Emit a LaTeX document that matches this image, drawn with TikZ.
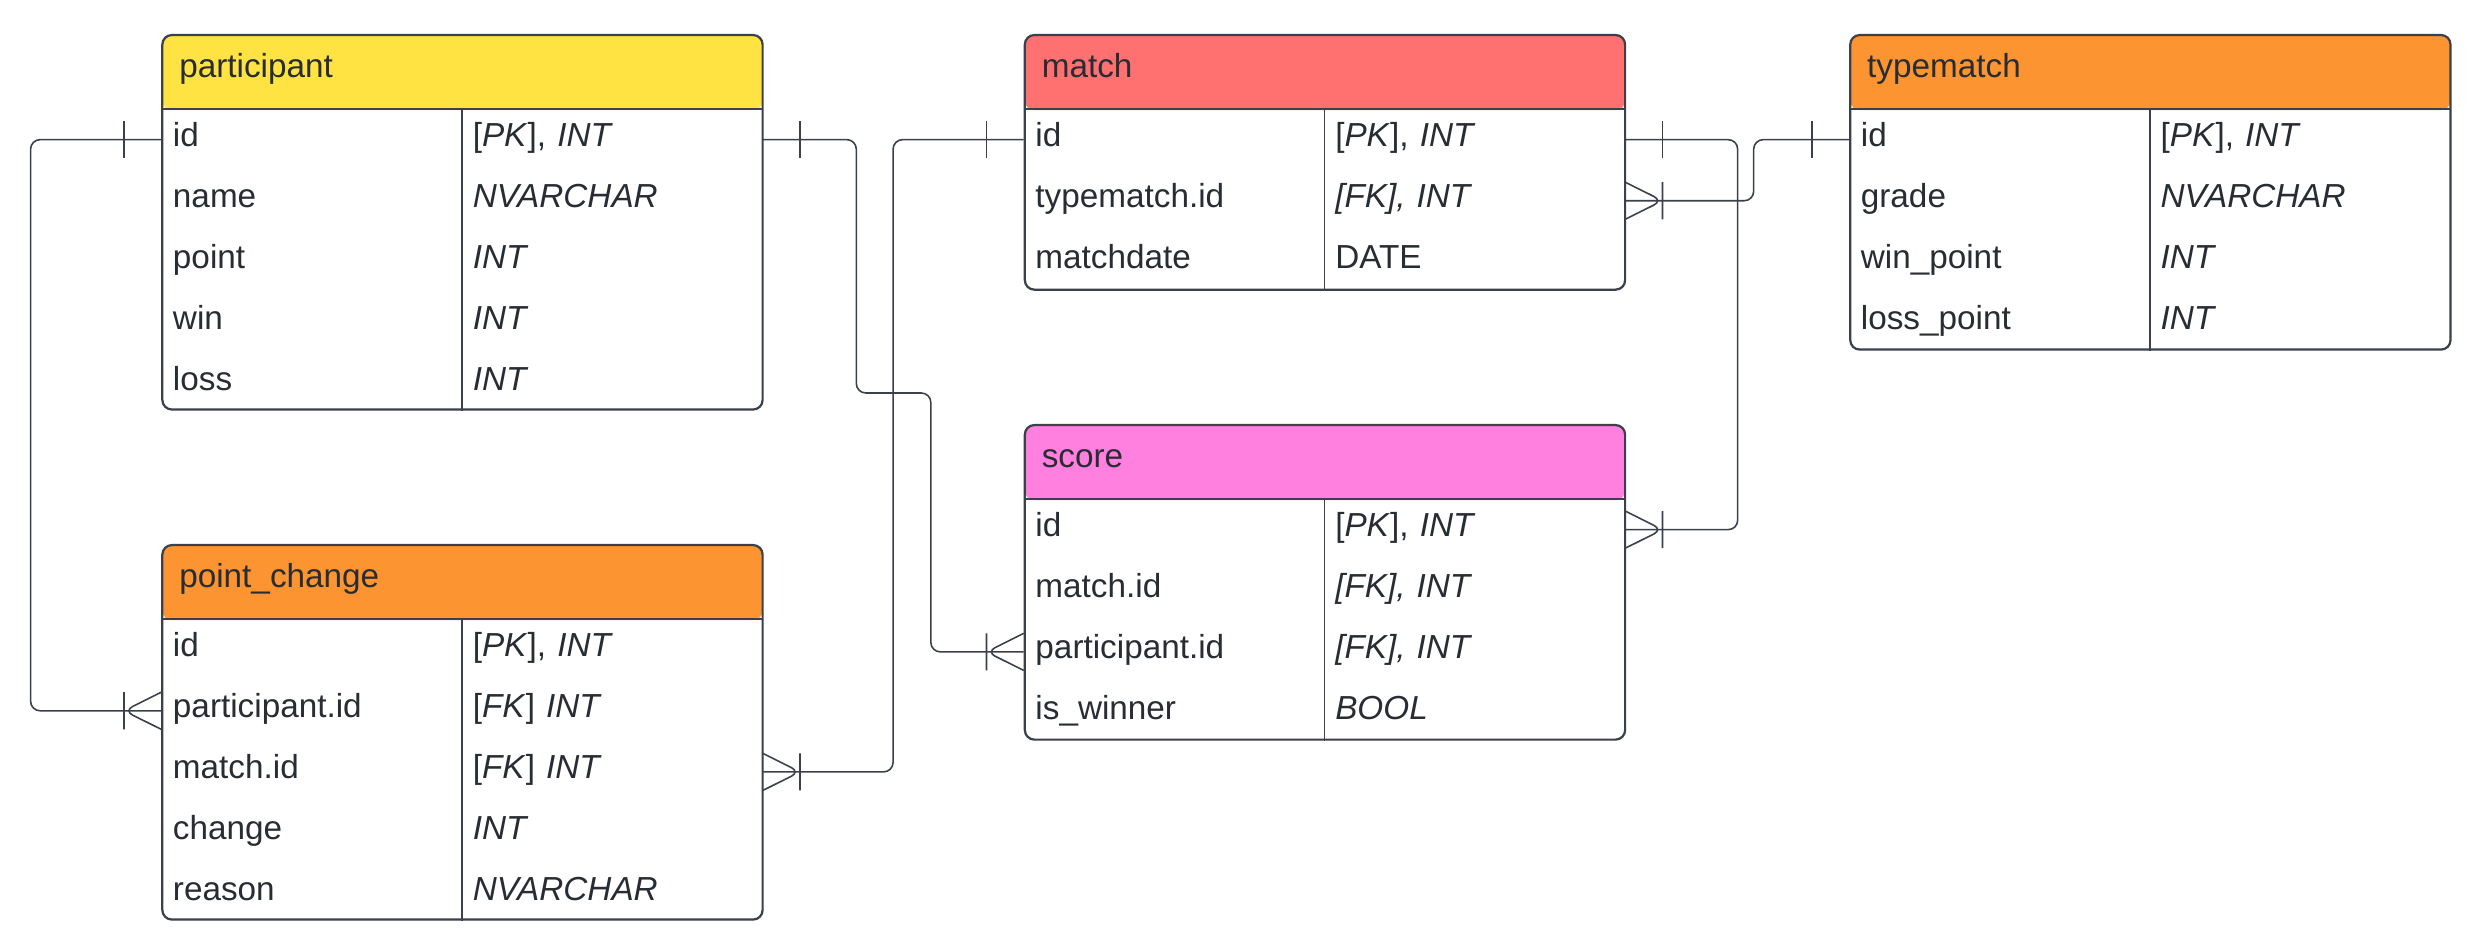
\documentclass[tikz,border=0pt]{standalone}
\usepackage{fontspec}
\setmainfont{Liberation Sans}
\usetikzlibrary{positioning}

\definecolor{lineGray}{HTML}{3A414A}
\definecolor{txtGray}{HTML}{282C33}
\definecolor{hdrYellow}{HTML}{FFE342}
\definecolor{hdrRed}{HTML}{FF7070}
\definecolor{hdrOrange}{HTML}{FC9432}
\definecolor{hdrPink}{HTML}{FF80DF}

% field name in the left column, type in the right one
\newcommand{\fld}[2]{\makebox[94.55pt][l]{#1}#2}

\tikzset{
  tbl/.style={draw=lineGray, line width=0.7pt, fill=white, rounded corners=3pt,
              anchor=north west, minimum width=189.3pt, inner sep=0pt},
  hdr/.style={path picture={\fill[#1] (path picture bounding box.north west)
              rectangle ([yshift=-23.7pt]path picture bounding box.north east);}},
  title/.style={anchor=base west, inner sep=0pt},
  row/.style={anchor=north west, inner xsep=3.5pt, inner ysep=0pt, text width=182.3pt,
              align=left, minimum height=18.875pt, text height=7.6pt, text depth=3.5pt},
  hline/.style={draw=lineGray, line width=0.8pt},
  vline/.style={draw=lineGray, line width=0.6pt},
  conn/.style={draw=lineGray, line width=0.5pt, rounded corners=3pt},
  onemark/.pic={\draw[conn] (-11.75pt,-5.85pt) -- (-11.75pt,5.85pt);},
  manymark/.pic={\draw[conn] (0pt,5.85pt) -- (-11.75pt,0pt) -- (0pt,-5.85pt)
                 (-11.75pt,-5.85pt) -- (-11.75pt,5.85pt);}
}

\begin{document}
\begin{tikzpicture}[x=0.5pt, y=-0.5pt, every node/.style={text=txtGray, font=\fontsize{10.5}{12.6}\selectfont}]
\useasboundingbox (0,0) rectangle (1568,597.3);

% participant
\node[tbl, hdr=hdrYellow, minimum height=118.1pt] (participant) at (101.7,21.4) {};
\node[title] (participant-title) at ([xshift=5.5pt,yshift=-13.8pt]participant.north west) {participant};
\node[row] (participant-id) at ([yshift=-23.7pt]participant.north west) {\fld{id}{[\textit{PK}], \textit{INT}}};
\node[row, below=0pt of participant-id] (participant-name) {\fld{name}{\textit{NVARCHAR}}};
\node[row, below=0pt of participant-name] (participant-point) {\fld{point}{\textit{INT}}};
\node[row, below=0pt of participant-point] (participant-win) {\fld{win}{\textit{INT}}};
\node[row, below=0pt of participant-win] (participant-loss) {\fld{loss}{\textit{INT}}};
\draw[hline] (participant-id.north west) -- (participant-id.north east);
\draw[vline] (participant-id.north) -- (participant-id.north |- participant.south);

% point_change
\node[tbl, hdr=hdrOrange, minimum height=118.1pt] (pointchange) at (101.7,343.1) {};
\node[title] (pointchange-title) at ([xshift=5.5pt,yshift=-13.8pt]pointchange.north west) {point\_change};
\node[row] (pointchange-id) at ([yshift=-23.7pt]pointchange.north west) {\fld{id}{[\textit{PK}], \textit{INT}}};
\node[row, below=0pt of pointchange-id] (pointchange-participant) {\fld{participant.id}{[\textit{FK}] \textit{INT}}};
\node[row, below=0pt of pointchange-participant] (pointchange-match) {\fld{match.id}{[\textit{FK}] \textit{INT}}};
\node[row, below=0pt of pointchange-match] (pointchange-change) {\fld{change}{\textit{INT}}};
\node[row, below=0pt of pointchange-change] (pointchange-reason) {\fld{reason}{\textit{NVARCHAR}}};
\draw[hline] (pointchange-id.north west) -- (pointchange-id.north east);
\draw[vline] (pointchange-id.north) -- (pointchange-id.north |- pointchange.south);

% match
\node[tbl, hdr=hdrRed, minimum height=80.3pt] (match) at (645.7,21.4) {};
\node[title] (match-title) at ([xshift=5.5pt,yshift=-13.8pt]match.north west) {match};
\node[row] (match-id) at ([yshift=-23.7pt]match.north west) {\fld{id}{[\textit{PK}], \textit{INT}}};
\node[row, below=0pt of match-id] (match-typematch) {\fld{typematch.id}{\textit{[FK], INT}}};
\node[row, below=0pt of match-typematch] (match-date) {\fld{matchdate}{DATE}};
\draw[hline] (match-id.north west) -- (match-id.north east);
\draw[vline] (match-id.north) -- (match-id.north |- match.south);

% score
\node[tbl, hdr=hdrPink, minimum height=99.2pt] (score) at (645.7,267.4) {};
\node[title] (score-title) at ([xshift=5.5pt,yshift=-13.8pt]score.north west) {score};
\node[row] (score-id) at ([yshift=-23.7pt]score.north west) {\fld{id}{[\textit{PK}], \textit{INT}}};
\node[row, below=0pt of score-id] (score-match) {\fld{match.id}{\textit{[FK], INT}}};
\node[row, below=0pt of score-match] (score-participant) {\fld{participant.id}{\textit{[FK], INT}}};
\node[row, below=0pt of score-participant] (score-winner) {\fld{is\_winner}{\textit{BOOL}}};
\draw[hline] (score-id.north west) -- (score-id.north east);
\draw[vline] (score-id.north) -- (score-id.north |- score.south);

% typematch
\node[tbl, hdr=hdrOrange, minimum height=99.2pt] (typematch) at (1166.3,21.4) {};
\node[title] (typematch-title) at ([xshift=5.5pt,yshift=-13.8pt]typematch.north west) {typematch};
\node[row] (typematch-id) at ([yshift=-23.7pt]typematch.north west) {\fld{id}{[\textit{PK}], \textit{INT}}};
\node[row, below=0pt of typematch-id] (typematch-grade) {\fld{grade}{\textit{NVARCHAR}}};
\node[row, below=0pt of typematch-grade] (typematch-win) {\fld{win\_point}{\textit{INT}}};
\node[row, below=0pt of typematch-win] (typematch-loss) {\fld{loss\_point}{\textit{INT}}};
\draw[hline] (typematch-id.north west) -- (typematch-id.north east);
\draw[vline] (typematch-id.north) -- (typematch-id.north |- typematch.south);

% relations
\draw[conn] (participant-id.west) -- ++(-82.4,0) |- (pointchange-participant.west);
\draw[conn] (participant-id.east) -- ++(59,0) -- ++(0,159.8) -- ++(47,0) |- (score-participant.west);
\draw[conn] (match-id.west) -- ++(-82.4,0) |- (pointchange-match.east);
\draw[conn] (match-id.east) -- ++(70.9,0) |- (score-id.east);
\draw[conn] (typematch-id.west) -- ++(-60.2,0) |- (match-typematch.east);

\pic at (participant-id.west) {onemark};
\pic at (pointchange-participant.west) {manymark};
\pic[rotate=180] at (participant-id.east) {onemark};
\pic at (score-participant.west) {manymark};
\pic at (match-id.west) {onemark};
\pic[rotate=180] at (pointchange-match.east) {manymark};
\pic[rotate=180] at (match-id.east) {onemark};
\pic[rotate=180] at (score-id.east) {manymark};
\pic at (typematch-id.west) {onemark};
\pic[rotate=180] at (match-typematch.east) {manymark};
\end{tikzpicture}
\end{document}
